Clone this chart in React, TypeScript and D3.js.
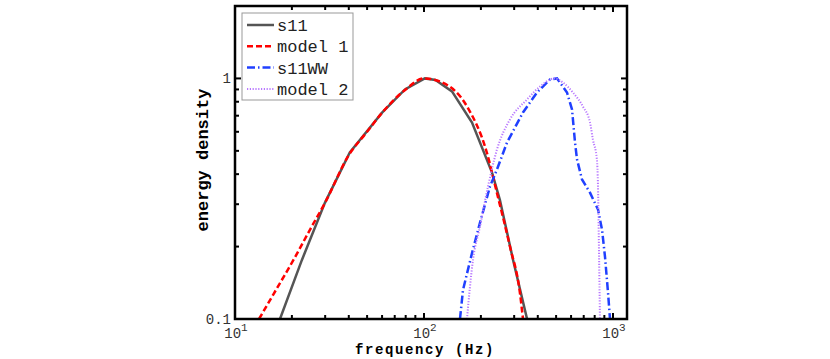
import * as d3 from 'd3'

// values: [frequency (Hz), energy density]
const s11 = [
  [17.3, 0.1], [22.6, 0.176], [29.9, 0.304], [40.5, 0.492], [60, 0.721],
  [79.3, 0.9], [101, 1.0], [115, 0.985], [140.6, 0.883], [179.5, 0.656],
  [229, 0.406], [252, 0.313], [296, 0.176], [351, 0.1],
]
const model1 = [
  [13.4, 0.1], [16, 0.127], [20.8, 0.181], [25, 0.236], [30, 0.305],
  [40, 0.48], [50, 0.6], [60, 0.72], [80, 0.9], [100, 1.0], [121.6, 0.97],
  [169, 0.764], [215, 0.492], [243, 0.335], [285, 0.2], [322, 0.128], [334, 0.1],
]
const s11WW = [
  [155, 0.1], [160.8, 0.132], [179.5, 0.188], [197.7, 0.251], [223.3, 0.355],
  [243.2, 0.418], [274.8, 0.541], [334, 0.722], [396, 0.874], [464, 0.99],
  [505.7, 1.0], [571, 0.874], [607, 0.743], [629.6, 0.541], [645.3, 0.46],
  [685.6, 0.38], [755.7, 0.335], [833.1, 0.285], [875, 0.235], [907.5, 0.181],
  [941.7, 0.128], [964, 0.1],
]
const model2 = [
  [168.8, 0.1], [181.6, 0.176], [197.7, 0.242], [218, 0.355], [243.2, 0.506],
  [285, 0.675], [351, 0.818], [411, 0.926], [493, 1.0], [543, 0.962],
  [614, 0.874], [693, 0.764], [755.7, 0.656], [783, 0.557], [822, 0.46],
  [833, 0.355], [843, 0.194], [853, 0.1],
]

const xMajor = [10, 100, 1000]
const xExp = ['1', '2', '3']
const xMinor = [20, 30, 40, 50, 60, 70, 80, 90, 200, 300, 400, 500, 600, 700, 800, 900]
const yMajor = [0.1, 1]
const yLabels = ['0.1', '1']
const yMinor = [0.2, 0.3, 0.4, 0.5, 0.6, 0.7, 0.8, 0.9, 2]

const series = [
  { name: 's11', data: s11, color: '#555555', width: 2.5, dash: 'none', smooth: false },
  { name: 'model 1', data: model1, color: '#ff0000', width: 2.5, dash: '6,3', smooth: true },
  { name: 's11WW', data: s11WW, color: '#2040ff', width: 2.5, dash: '8,3,1.5,3', smooth: false },
  { name: 'model 2', data: model2, color: '#b878ff', width: 2, dash: '1.2,1.6', smooth: true },
]

const W = 830
const H = 359
const left = 235
const right = 627
const top = 6
const bottom = 319

const mono = '"Liberation Mono", "Courier New", monospace'

export default function App() {
  const x = d3.scaleLog().domain([10, 1186]).range([left, right])
  const y = d3.scaleLog().domain([0.1, 2]).range([bottom, top])

  const mkLine = (smooth: boolean) =>
    d3
      .line<number[]>()
      .x((d) => x(d[0]))
      .y((d) => y(d[1]))
      .curve(smooth ? d3.curveMonotoneX : d3.curveLinear)

  const maj = 6
  const mnr = 4

  return (
    <svg width={W} height={H} style={{ position: 'absolute', left: 0, top: 0 }}>
      <defs>
        <clipPath id="plot">
          <rect x={left} y={top} width={right - left} height={bottom - top} />
        </clipPath>
      </defs>
      <rect width={W} height={H} fill="#fff" />

      <g clipPath="url(#plot)">
        {series.map((s) => (
          <path
            key={s.name}
            d={mkLine(s.smooth)(s.data) || ''}
            fill="none"
            stroke={s.color}
            strokeWidth={s.width}
            strokeDasharray={s.dash}
          />
        ))}
      </g>

      {/* ticks, inside on all four sides */}
      <g stroke="#000" strokeWidth={2}>
        {xMajor.concat(xMinor).map((v) => {
          const len = xMajor.includes(v) ? maj : mnr
          return (
            <g key={'x' + v}>
              <line x1={x(v)} x2={x(v)} y1={bottom} y2={bottom - len} />
              <line x1={x(v)} x2={x(v)} y1={top} y2={top + len} />
            </g>
          )
        })}
        {yMajor.concat(yMinor).map((v) => {
          const len = yMajor.includes(v) ? maj : mnr
          return (
            <g key={'y' + v}>
              <line x1={left} x2={left + len} y1={y(v)} y2={y(v)} />
              <line x1={right} x2={right - len} y1={y(v)} y2={y(v)} />
            </g>
          )
        })}
      </g>

      <rect
        x={left}
        y={top}
        width={right - left}
        height={bottom - top}
        fill="none"
        stroke="#000"
        strokeWidth={2.5}
      />

      {/* tick labels */}
      <g fontFamily={mono} fontSize={14} fill="#333">
        {yMajor.map((v, i) => (
          <text key={v} x={left - 4} y={y(v)} dy="0.35em" textAnchor="end">
            {yLabels[i]}
          </text>
        ))}
        {xMajor.map((v, i) => (
          <text key={v} x={x(v) + 1} y={338} textAnchor="middle">
            10
            <tspan fontSize={11} dy={-7}>
              {xExp[i]}
            </tspan>
          </text>
        ))}
      </g>

      <text
        x={425}
        y={354}
        textAnchor="middle"
        fontFamily={mono}
        fontWeight="bold"
        fontSize={14}
        letterSpacing={1.6}
        fill="#000"
      >
        frequency (Hz)
      </text>
      <text
        transform={`translate(208,160) rotate(-90)`}
        textAnchor="middle"
        fontFamily={mono}
        fontWeight="bold"
        fontSize={17}
        fill="#000"
      >
        energy density
      </text>

      {/* legend */}
      <rect x={242} y={13} width={111} height={87} fill="#fff" stroke="#999" strokeWidth={1} />
      {series.map((s, i) => {
        const ly = 25 + i * 21.3
        return (
          <g key={'lg' + s.name}>
            <line
              x1={247}
              x2={274}
              y1={ly}
              y2={ly}
              stroke={s.color}
              strokeWidth={s.width}
              strokeDasharray={s.dash}
            />
            <text x={277} y={ly} dy="0.35em" fontFamily={mono} fontSize={17} fill="#222">
              {s.name}
            </text>
          </g>
        )
      })}
    </svg>
  )
}
